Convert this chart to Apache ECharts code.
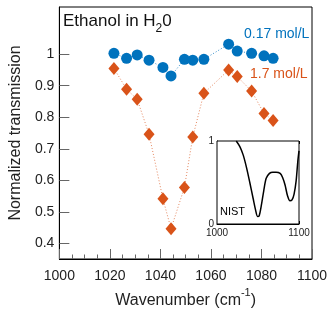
<!DOCTYPE html>
<html><head><meta charset="utf-8">
<script src="https://cdn.jsdelivr.net/npm/echarts@6/dist/echarts.min.js"></script>
<style>html,body{margin:0;padding:0;background:#fff}#c{width:333px;height:314px}</style>
</head><body><div id="c"></div>
<script>
var wavenumbers = [1021.6, 1026.6, 1030.8, 1035.5, 1041.0, 1044.2, 1049.5, 1052.8, 1057.2, 1067.0, 1070.4, 1076.1, 1081.0, 1084.6];
var low017 = [1.003, 0.987, 0.998, 0.981, 0.958, 0.931, 0.984, 0.981, 0.984, 1.032, 1.010, 1.003, 0.995, 0.987];
var high17 = [0.955, 0.889, 0.857, 0.746, 0.541, 0.446, 0.577, 0.737, 0.876, 0.950, 0.929, 0.883, 0.812, 0.790];
var nistX = [1023.5, 1028, 1032, 1036, 1040, 1044, 1047, 1049.5, 1051.5, 1054, 1057, 1060, 1064, 1068, 1072, 1077, 1080, 1083, 1086, 1089, 1091.5, 1094, 1096.5, 1098.5, 1100];
var nistY = [1.0, 0.93, 0.83, 0.68, 0.50, 0.31, 0.17, 0.09, 0.10, 0.22, 0.40, 0.55, 0.61, 0.625, 0.625, 0.61, 0.56, 0.47, 0.34, 0.28, 0.29, 0.36, 0.52, 0.75, 0.88];
var yTicks = [0.4, 0.5, 0.6, 0.7, 0.8, 0.9, 1.0];
var seriesNames = ['0.17 mol/L', '1.7 mol/L'];

var BLUE = '#0072BD', ORANGE = '#D95319', FONT = 'Liberation Sans';
function pairs(xs, ys) { return xs.map(function (x, i) { return [x, ys[i]]; }); }
function plain(v) { return String(Math.round(v)); }

var chart = echarts.init(document.getElementById('c'), null, { renderer: 'canvas' });
chart.setOption({
  animation: false,
  backgroundColor: '#fff',
  textStyle: { fontFamily: FONT },
  grid: [
    { left: 58, top: 7, right: 21, bottom: 55, show: true, borderColor: '#000', borderWidth: 1 },
    { left: 217, top: 141, width: 82, height: 83, show: true, borderColor: '#000', borderWidth: 1, backgroundColor: '#fff', z: 5 }
  ],
  xAxis: [
    { gridIndex: 0, type: 'value', min: 1000, max: 1100, interval: 20,
      name: '{m|Wavenumber (cm}{s|-1}{m|)}', nameLocation: 'middle', nameGap: 26,
      nameTextStyle: { rich: {
        m: { fontSize: 16, fontFamily: FONT, color: '#222', lineHeight: 20, padding: [5, 0, 0, 0], verticalAlign: 'top' },
        s: { fontSize: 11, fontFamily: FONT, color: '#222', lineHeight: 11, verticalAlign: 'top' } } },
      axisLine: { lineStyle: { color: '#000', width: 1 } },
      axisTick: { inside: true, length: 10, lineStyle: { color: '#666' } },
      minorTick: { show: true, splitNumber: 4, length: 4.5, lineStyle: { color: '#666' } },
      splitLine: { show: false },
      axisLabel: { fontSize: 14, color: '#222', margin: 10, fontFamily: FONT, formatter: plain } },
    { gridIndex: 1, type: 'value', min: 1000, max: 1100, interval: 20,
      axisLine: { lineStyle: { color: '#000' } },
      axisTick: { inside: true, length: 3, lineStyle: { color: '#000' } },
      splitLine: { show: false },
      axisLabel: { fontSize: 10, color: '#222', margin: 4, fontFamily: FONT, customValues: [1000, 1100], formatter: plain } },
    { gridIndex: 1, type: 'value', position: 'top', min: 1000, max: 1100, interval: 20,
      axisLine: { show: false },
      axisTick: { inside: true, length: 3, lineStyle: { color: '#000' } },
      splitLine: { show: false },
      axisLabel: { show: false } }
  ],
  yAxis: [
    { gridIndex: 0, type: 'value', min: 0.35, max: 1.15,
      name: 'Normalized transmission', nameLocation: 'middle', nameGap: 31,
      nameTextStyle: { fontSize: 16, color: '#222', fontFamily: FONT },
      axisLine: { lineStyle: { color: '#000', width: 1 } },
      axisTick: { inside: true, length: 10, lineStyle: { color: '#666' }, customValues: yTicks },
      splitLine: { show: false },
      axisLabel: { fontSize: 14, color: '#222', margin: 5, fontFamily: FONT, customValues: yTicks,
        formatter: function (v) { return Math.abs(v - 1) < 1e-9 ? '1' : v.toFixed(1); } } },
    { gridIndex: 1, type: 'value', min: 0, max: 1,
      axisLine: { lineStyle: { color: '#000' } },
      axisTick: { show: false },
      splitLine: { show: false },
      axisLabel: { fontSize: 10, color: '#222', margin: 3, fontFamily: FONT, customValues: [0, 1], formatter: plain } }
  ],
  series: [
    { name: seriesNames[0], type: 'line', xAxisIndex: 0, yAxisIndex: 0, data: pairs(wavenumbers, low017),
      symbol: 'circle', symbolSize: 11, itemStyle: { color: BLUE },
      lineStyle: { color: BLUE, width: 1, type: [1, 2], opacity: 0.8 }, z: 3 },
    { name: seriesNames[1], type: 'line', xAxisIndex: 0, yAxisIndex: 0, data: pairs(wavenumbers, high17),
      symbol: 'diamond', symbolSize: [11, 13], itemStyle: { color: ORANGE },
      lineStyle: { color: ORANGE, width: 1, type: [1, 2], opacity: 0.7 }, z: 3 },
    { name: 'NIST', type: 'line', xAxisIndex: 1, yAxisIndex: 1, data: pairs(nistX, nistY),
      symbol: 'none', smooth: 0.3, lineStyle: { color: '#000', width: 1.5 }, z: 6 }
  ],
  graphic: [
    { type: 'text', left: 63, top: 13, z: 10, style: { text: '{m|Ethanol in H}{s|2}{m|0}', rich: {
        m: { fontSize: 17, fontFamily: FONT, fill: '#111', lineHeight: 21, verticalAlign: 'top' },
        s: { fontSize: 12, fontFamily: FONT, fill: '#111', lineHeight: 14, padding: [10, 0, 0, 0], verticalAlign: 'top' } } } },
    { type: 'text', left: 244, top: 27, z: 10, style: { text: seriesNames[0], fontSize: 14, fontFamily: FONT, fill: BLUE } },
    { type: 'text', left: 250, top: 67, z: 10, style: { text: seriesNames[1], fontSize: 14, fontFamily: FONT, fill: ORANGE } },
    { type: 'text', left: 220, top: 206, z: 10, style: { text: 'NIST', fontSize: 11, fontFamily: FONT, fill: '#000' } }
  ]
});
</script></body></html>
